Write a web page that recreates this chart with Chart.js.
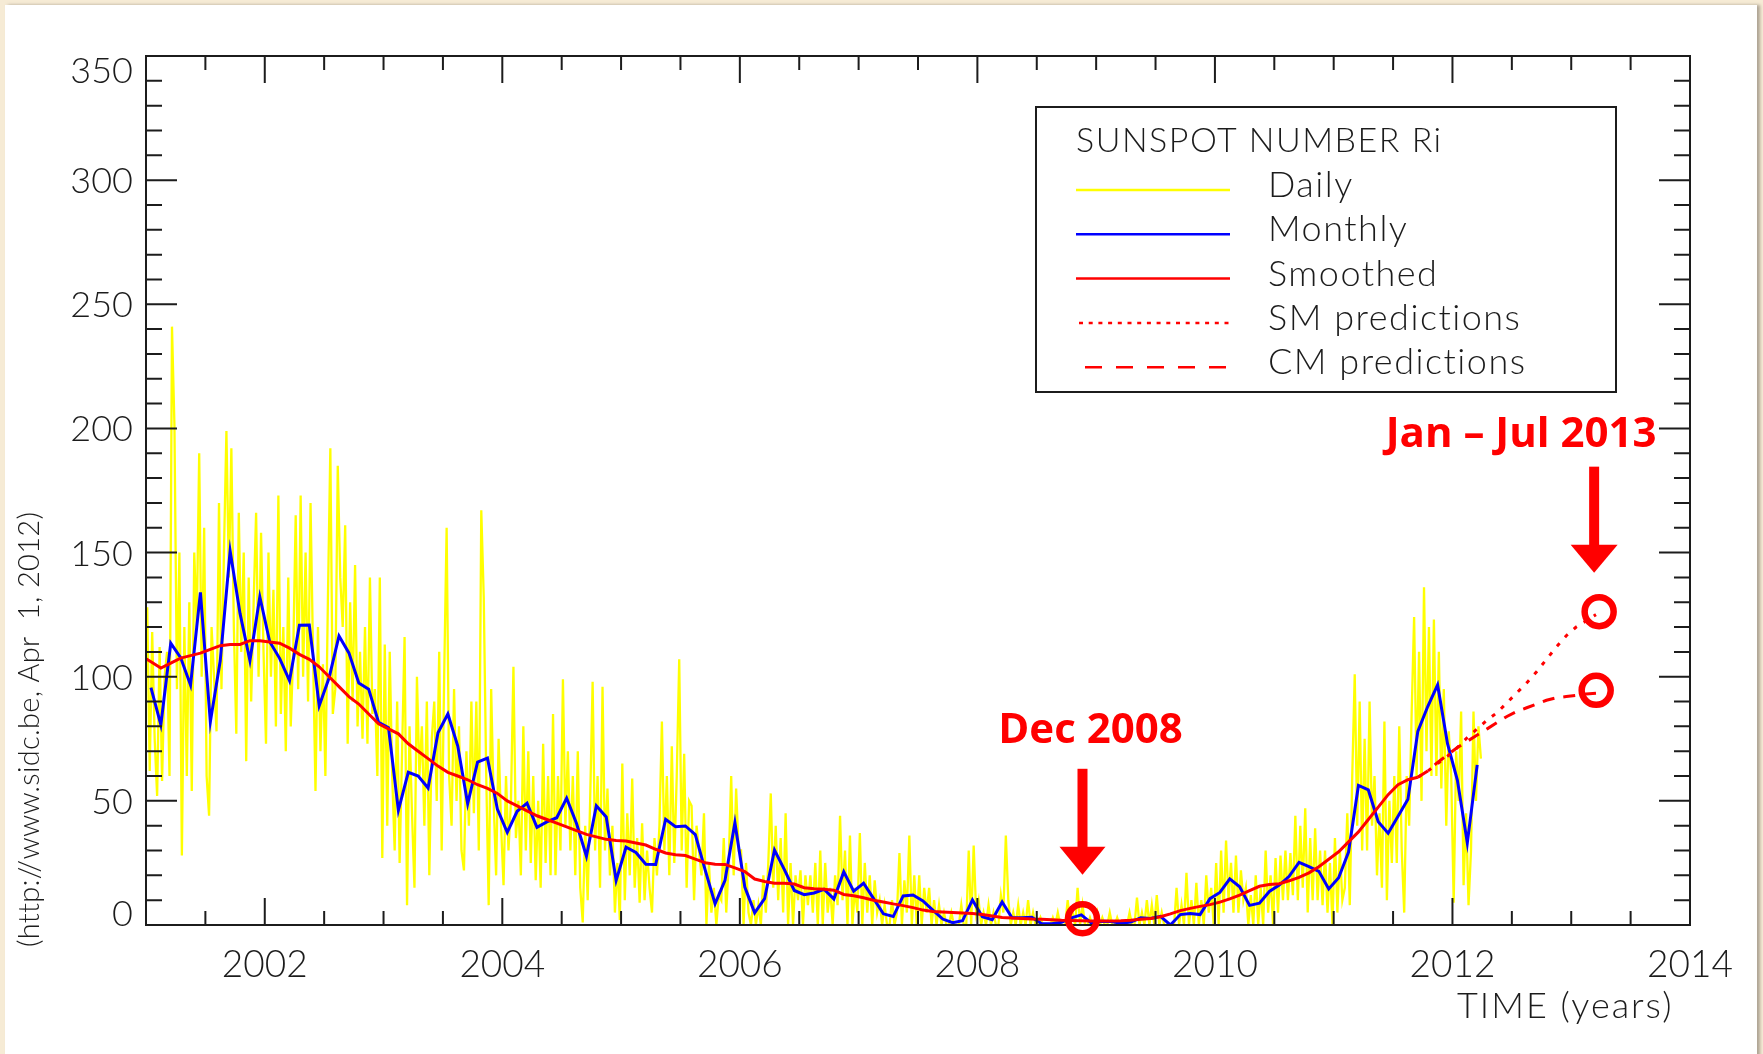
<!DOCTYPE html>
<html>
<head>
<meta charset="utf-8">
<title>Sunspot number Ri</title>
<script src="https://cdn.jsdelivr.net/npm/chart.js@4.4.1/dist/chart.umd.min.js"></script>
<style>
  html, body { margin: 0; padding: 0; background: #f6ebd5; overflow: hidden; }
  #sheet { position: absolute; left: 5px; top: 5px; width: 1752px; height: 1060px; background: #ffffff;
           box-shadow: 3px 0 3px rgba(115, 105, 95, 0.55); }
  #wrap { position: absolute; left: 0; top: 0; width: 1763px; height: 1054px; }
</style>
</head>
<body>
<div id="sheet"></div>
<div id="wrap"><canvas id="chart" width="1763" height="1054"></canvas></div>
<script>
// ---- Sunspot number Ri, 2001 - 2013 ----

// Daily sunspot number, sampled four times per month from January 2001 to March 2012
const dailySamples = [
  // 2001
  128, 62, 118, 75,   52, 112, 58, 100,   110, 60, 241, 201,  95, 150, 28, 120,
  60, 130, 54, 150,   120, 190, 100, 160, 60, 44, 120, 100,   78, 170, 95, 150,
  199, 140, 192, 120, 77, 166, 110, 150,  66, 140, 90, 130,   166, 100, 158, 110,
  // 2002
  73, 150, 100, 135,  80, 173, 85, 120,   70, 140, 80, 110,   165, 95, 173, 100,
  150, 90, 170, 110,  54, 120, 70, 105,   60, 130, 192, 85,   95, 185, 140, 120,
  161, 73, 130, 90,   145, 80, 110, 75,   120, 73, 140, 85,   95, 60, 140, 27,
  // 2003
  113, 40, 110, 60,   30, 90, 25, 70,     116, 8, 80, 45,     15, 100, 60, 80,
  40, 90, 20, 75,     90, 50, 110, 30,    100, 160, 60, 40,   95, 50, 80, 30,
  22, 70, 40, 90,     45, 90, 30, 167,    132, 60, 8, 95,     50, 20, 75, 40,
  // 2004
  16, 60, 30, 50,     104, 35, 50, 20,    80, 30, 70, 25,     60, 18, 50, 15,
  73, 25, 60, 20,     85, 20, 60, 30,     99, 40, 70, 30,     60, 20, 70, 15,
  1, 40, 10, 50,      98, 30, 60, 15,     96, 30, 55, 20,     40, 5, 25, 2,
  // 2005
  65, 10, 45, 20,     59, 15, 35, 9,      41, 10, 30, 15,     5, 35, 20, 40,
  82, 30, 60, 20,     72, 25, 60, 107,    30, 69, 15, 50,     48, 10, 40, 30,
  20, 45, 0, 25,      5, 15, 0, 12,       10, 35, 5, 25,      60, 20, 55, 30,
  // 2006
  30, 0, 25, 5,       0, 10, 0, 8,        0, 20, 5, 25,       53, 15, 40, 10,
  35, 5, 45, 0,       25, 0, 20, 10,      22, 0, 20, 8,       20, 5, 25, 0,
  30, 0, 25, 5,       15, 0, 20, 8,       44, 10, 30, 0,      36, 0, 15, 5,
  // 2007
  37, 0, 25, 5,       20, 0, 18, 5,       10, 0, 8, 0,        0, 10, 0, 5,
  29, 0, 18, 5,       36, 0, 20, 0,       20, 0, 15, 5,       15, 0, 10, 0,
  8, 0, 5, 0,         0, 5, 0, 0,         0, 8, 0, 0,         30, 0, 32, 5,
  // 2008
  10, 0, 5, 0,        8, 0, 5, 0,         0, 12, 5, 36,       10, 0, 5, 0,
  8, 0, 5, 0,         10, 0, 5, 0,        0, 3, 0, 0,         0, 0, 3, 0,
  5, 0, 0, 0,         10, 0, 5, 0,        15, 0, 8, 0,        0, 3, 0, 0,
  // 2009
  5, 0, 3, 0,         0, 5, 0, 0,         3, 0, 0, 0,         0, 5, 0, 0,
  11, 0, 5, 0,        10, 0, 8, 0,        12, 0, 5, 0,        0, 0, 0, 0,
  15, 0, 8, 0,        21, 0, 10, 0,       17, 0, 10, 0,       20, 5, 15, 0,
  // 2010
  25, 0, 30, 5,       34, 10, 25, 5,      28, 5, 22, 10,      15, 0, 12, 0,
  20, 0, 15, 0,       30, 5, 20, 0,       27, 5, 28, 10,      30, 10, 29, 12,
  44, 10, 40, 15,     47, 5, 35, 10,      39, 10, 30, 8,      30, 5, 25, 0,
  // 2011
  35, 5, 30, 10,      15, 45, 8, 60,      101, 40, 90, 30,    75, 30, 90, 40,
  60, 20, 45, 15,     82, 10, 50, 25,     60, 25, 80, 30,     5, 60, 40, 85,
  124, 60, 110, 50,   136, 70, 120, 60,   123, 60, 110, 55,   95, 40, 78, 60,
  // 2012
  9, 70, 50, 86,      16, 45, 8, 30,      86, 50, 80, 67
];

// Monthly mean sunspot number, January 2001 - March 2012
const monthlyMean = [
  95.6, 80.6, 113.5, 107.7, 96.6, 134.0, 81.8, 106.4, 150.7, 125.5, 106.5, 132.2,
  114.1, 107.4, 98.4, 120.7, 120.8, 88.3, 99.6, 116.4, 109.6, 97.5, 95.0, 81.6,
  79.5, 46.2, 61.5, 60.0, 55.2, 77.4, 85.0, 72.1, 48.8, 65.6, 67.2, 46.7,
  37.3, 45.8, 49.1, 39.3, 41.5, 43.2, 51.1, 40.9, 27.7, 48.0, 43.5, 17.9,
  31.3, 29.2, 24.5, 24.4, 42.6, 39.6, 39.9, 36.4, 22.1, 8.5, 18.0, 41.2,
  15.3, 4.9, 10.6, 30.2, 22.3, 13.9, 12.2, 12.9, 14.4, 10.5, 21.4, 13.6,
  16.8, 10.7, 4.5, 3.4, 11.7, 12.1, 9.7, 6.0, 2.4, 0.9, 1.7, 10.1,
  3.3, 2.1, 9.3, 2.9, 2.9, 3.1, 0.5, 0.5, 1.1, 2.9, 4.1, 0.8,
  1.5, 1.4, 0.7, 1.2, 2.9, 2.6, 3.5, 0.0, 4.2, 4.6, 4.2, 10.6,
  13.1, 18.6, 15.4, 7.9, 8.8, 13.5, 16.1, 19.6, 25.2, 23.5, 21.6, 14.5,
  19.0, 29.4, 56.2, 54.4, 41.6, 37.0, 43.8, 50.6, 78.0, 88.0, 96.7, 73.0,
  58.3, 33.1, 64.5
];

// 13-month smoothed sunspot number, December 2000 - September 2011
const smoothed = [
  108.5,
  106, 103.5, 105.5, 107.5, 108.5, 109.5, 111, 112.5, 113, 113, 114.5, 114.5,
  114, 113.5, 111.5, 109, 107, 104, 100, 96, 92, 89, 85, 81,
  79, 77, 73, 70, 67, 64, 61.5, 60, 58.5, 56.5, 55, 53,
  50, 48, 46, 44, 42.5, 41, 39.5, 38, 36.5, 35.5, 34.5, 34,
  33.8, 33, 32.2, 30.5, 29, 28.3, 28, 26.5, 25.1, 24.5, 24.4, 23,
  21.5, 18.5, 17.5, 16.8, 16.8, 16.5, 15, 14.6, 14.4, 14, 12.3, 11.8,
  11, 10, 9.3, 8.5, 7.8, 7, 6, 5.4, 5.2, 5, 4.8, 4.6,
  4.2, 3.6, 3.0, 2.8, 2.6, 2.4, 2.3, 2.1, 1.9, 1.8, 1.7, 1.6,
  1.6, 1.6, 1.7, 1.9, 2.3, 2.6, 3.3, 4.5, 5.8, 6.7, 7.5, 8.2,
  9.2, 10.5, 12, 13.8, 15.6, 16.3, 16.6, 17.8, 19.2, 21, 23.5, 26.5,
  29.5, 33.5, 37.5, 42.5, 47.5, 52.5, 56.5, 58.5, 59.5
];

// Predictions of the smoothed number, September 2011 - March 2013
const smPredictions = [59.5, 62, 65, 68, 71.5, 75.5, 79, 82.5, 85.5, 89.5, 93.5, 97.5, 102, 107, 112, 116.5, 120, 122.5, 125];
const cmPredictions = [59.5, 62, 65.5, 68.5, 71.5, 74, 76.5, 79, 81.5, 84, 86, 87.5, 89, 90.5, 91.5, 92, 92.5, 93, 93.3];

// Axis ranges and tick labels
const xRange = [2001, 2014];
const yRange = [0, 350];
const xTickLabels = ['2002', '2004', '2006', '2008', '2010', '2012', '2014'];
const yTickLabels = ['0', '50', '100', '150', '200', '250', '300', '350'];

// Highlighted minimum and predicted maxima (data coordinates)
const highlightMin = { x: 2008.885, y: 2.5 };
const highlightSM = { x: 2013.235, y: 126.2 };
const highlightCM = { x: 2013.21, y: 94.5 };

// ---- helpers ----
const monthX = (startYear, startMonth, i) => startYear + (startMonth - 1 + i + 0.5) / 12;
const dailyPoints = dailySamples.map((v, i) => ({ x: 2001 + (i + 0.5) / 48, y: v }));
const monthlyPoints = monthlyMean.map((v, i) => ({ x: monthX(2001, 1, i), y: v }));
const smoothedPoints = smoothed.map((v, i) => ({ x: monthX(2000, 12, i), y: v }));
const smPoints = smPredictions.map((v, i) => ({ x: monthX(2011, 9, i), y: v }));
const cmPoints = cmPredictions.map((v, i) => ({ x: monthX(2011, 9, i), y: v }));

const INK = '#1c1c1c';
const PLOT_FONT = 'Lato, "Liberation Sans", sans-serif';
const NOTE_FONT = '"Open Sans", "Noto Sans", sans-serif';

// Boxed IDL-style frame: inward ticks on all four sides, labels and titles
const idlFrame = {
  id: 'idlFrame',
  afterDatasetsDraw(chart) {
    const { ctx, chartArea: a, scales: { x, y } } = chart;
    ctx.save();
    ctx.strokeStyle = INK;
    ctx.lineWidth = 2;
    ctx.lineCap = 'butt';
    ctx.beginPath();
    for (let t = xRange[0] + 0.5; t < xRange[1] - 1e-6; t += 0.5) {
      const px = x.getPixelForValue(t);
      const len = (Math.abs(t % 2) < 1e-6) ? 27 : 14;
      ctx.moveTo(px, a.bottom); ctx.lineTo(px, a.bottom - len);
      ctx.moveTo(px, a.top); ctx.lineTo(px, a.top + len);
    }
    for (let v = yRange[0] + 10; v < yRange[1]; v += 10) {
      const py = y.getPixelForValue(v);
      const len = (v % 50 === 0) ? 31 : 16;
      ctx.moveTo(a.left, py); ctx.lineTo(a.left + len, py);
      ctx.moveTo(a.right, py); ctx.lineTo(a.right - len, py);
    }
    ctx.stroke();
    ctx.strokeRect(a.left, a.top, a.right - a.left, a.bottom - a.top);

    ctx.fillStyle = INK;
    // x tick labels
    ctx.font = '300 37px ' + PLOT_FONT;
    ctx.textAlign = 'center';
    ctx.textBaseline = 'alphabetic';
    xTickLabels.forEach(lbl => ctx.fillText(lbl, x.getPixelForValue(Number(lbl)), a.bottom + 52));
    // y tick labels (end labels kept inside the frame height)
    ctx.font = '300 36px ' + PLOT_FONT;
    ctx.textAlign = 'right';
    yTickLabels.forEach(lbl => {
      const v = Number(lbl);
      let base = y.getPixelForValue(v) + 13;
      if (v === yRange[0]) base = a.bottom + 1;
      if (v === yRange[1]) base = a.top + 27;
      ctx.fillText(lbl, a.left - 13, base);
    });
    // axis titles
    ctx.textAlign = 'left';
    ctx.letterSpacing = '2px';
    ctx.fillText('TIME (years)', a.left + 1311, a.bottom + 93);
    ctx.letterSpacing = '0px';
    ctx.save();
    ctx.translate(39, 947);
    ctx.rotate(-Math.PI / 2);
    ctx.font = '300 29px ' + PLOT_FONT;
    ctx.letterSpacing = '0.3px';
    ctx.fillText('(http://www.sidc.be, Apr  1, 2012)', 0, 0);
    ctx.restore();

    // legend box
    const L = { left: a.left + 890, top: a.top + 51, width: 580, height: 285 };
    ctx.fillStyle = '#ffffff';
    ctx.fillRect(L.left, L.top, L.width, L.height);
    ctx.strokeStyle = INK;
    ctx.lineWidth = 2;
    ctx.strokeRect(L.left, L.top, L.width, L.height);
    ctx.fillStyle = INK;
    ctx.font = '300 34px ' + PLOT_FONT;
    ctx.letterSpacing = '1.5px';
    ctx.fillText('SUNSPOT NUMBER Ri', L.left + 40, L.top + 45);
    ctx.font = '300 36px ' + PLOT_FONT;
    chart.data.datasets.forEach((ds, i) => {
      const lineY = L.top + 83 + i * 44.3;
      ctx.save();
      ctx.strokeStyle = ds.borderColor;
      ctx.lineWidth = 2.5;
      const dash = ds.legendDash || [];
      ctx.setLineDash(dash);
      ctx.beginPath();
      const x0 = L.left + (dash.length ? (dash[0] > 8 ? 49 : 43) : 40);
      ctx.moveTo(x0, lineY);
      ctx.lineTo(L.left + 194, lineY);
      ctx.stroke();
      ctx.restore();
      ctx.fillText(ds.label, L.left + 232, lineY + 7);
    });
    ctx.letterSpacing = '0px';
    ctx.restore();
  }
};

// Red call-outs: circled points, arrows and captions
function drawArrow(ctx, cx, top, base, tip, shaft, half) {
  ctx.fillRect(cx - shaft / 2, top, shaft, base - top + 1);
  ctx.beginPath();
  ctx.moveTo(cx - half, base);
  ctx.lineTo(cx + half, base);
  ctx.lineTo(cx, tip);
  ctx.closePath();
  ctx.fill();
}
const callouts = {
  id: 'callouts',
  afterDraw(chart) {
    const { ctx, scales: { x, y } } = chart;
    ctx.save();
    ctx.strokeStyle = '#ff0000';
    ctx.fillStyle = '#ff0000';
    ctx.lineWidth = 6.5;
    const rings = [highlightMin, highlightSM, highlightCM].map(p => ({ px: x.getPixelForValue(p.x), py: y.getPixelForValue(p.y) }));
    rings.forEach(r => { ctx.beginPath(); ctx.arc(r.px, r.py, 14.5, 0, Math.PI * 2); ctx.stroke(); });

    const m = rings[0];
    drawArrow(ctx, m.px, m.py - 150, m.py - 72, m.py - 44, 10, 23);
    const s = rings[1];
    drawArrow(ctx, s.px - 5, s.py - 145, s.py - 67, s.py - 39, 10, 23.5);

    ctx.font = 'bold 42px ' + NOTE_FONT;
    ctx.textAlign = 'center';
    ctx.textBaseline = 'alphabetic';
    ctx.fillText('Dec 2008', m.px + 8, m.py - 176);
    ctx.fillText('Jan \u2013 Jul 2013', s.px - 78, s.py - 165);
    ctx.restore();
  }
};

new Chart(document.getElementById('chart'), {
  type: 'line',
  data: {
    datasets: [
      { label: 'Daily', data: dailyPoints, borderColor: '#ffff00', borderWidth: 2.3, order: 5 },
      { label: 'Monthly', data: monthlyPoints, borderColor: '#0000ff', borderWidth: 3, order: 4 },
      { label: 'Smoothed', data: smoothedPoints, borderColor: '#ff0000', borderWidth: 3, order: 3 },
      { label: 'SM predictions', data: smPoints, borderColor: '#ff0000', borderWidth: 3,
        borderDash: [4, 8], legendDash: [4, 5.7], order: 2 },
      { label: 'CM predictions', data: cmPoints, borderColor: '#ff0000', borderWidth: 3,
        borderDash: [12, 9], legendDash: [17, 14], order: 1 }
    ]
  },
  options: {
    responsive: false,
    animation: false,
    devicePixelRatio: 1,
    layout: { padding: { left: 146, top: 56, right: 73, bottom: 129 } },
    elements: { point: { radius: 0, hoverRadius: 0 }, line: { tension: 0, fill: false } },
    scales: {
      x: { type: 'linear', min: xRange[0], max: xRange[1], display: false },
      y: { type: 'linear', min: yRange[0], max: yRange[1], display: false }
    },
    plugins: { legend: { display: false }, tooltip: { enabled: false } }
  },
  plugins: [idlFrame, callouts]
});
</script>
</body>
</html>
